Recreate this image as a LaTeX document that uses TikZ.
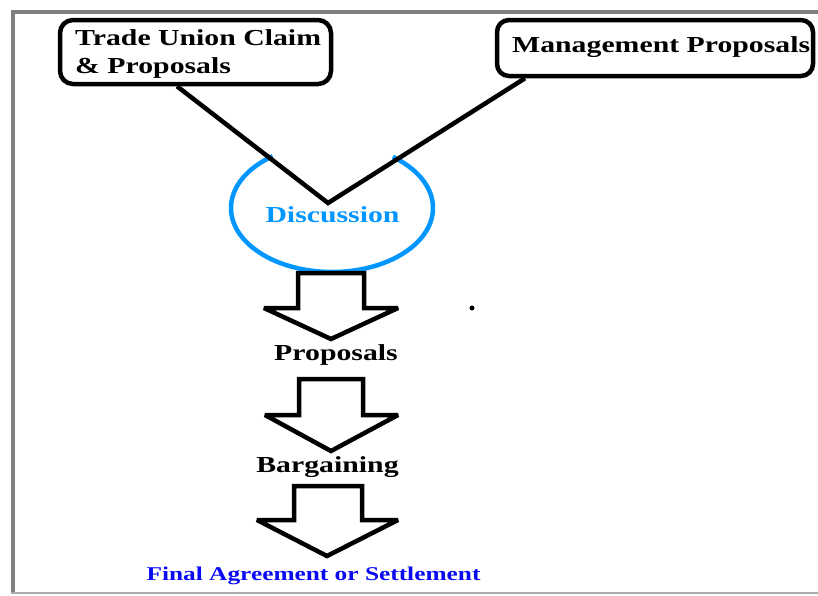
\documentclass[tikz,border=0pt]{standalone}
\usepackage{fontspec}
\newfontfamily\lblfont[FakeStretch=1.3]{Liberation Serif}
\usetikzlibrary{calc}
\definecolor{discblue}{RGB}{0,150,255}
\definecolor{finalblue}{RGB}{10,10,245}
\definecolor{framegray}{RGB}{128,128,128}
\definecolor{framelight}{RGB}{170,170,170}
\begin{document}
\begin{tikzpicture}[x=1pt,y=1pt,
  box/.style={draw=black,line width=4.5pt,rounded corners=13pt,inner sep=0pt},
  lbl/.style={inner sep=0pt,font=\lblfont\bfseries\fontsize{22.9}{28}\selectfont},
  link/.style={draw=black,line width=4.5pt},
  blockarrow/.style={draw=black,line width=4.5pt,line join=miter,miter limit=3},
  ring/.style={draw=discblue,line width=4.5pt}]
\useasboundingbox (0,0) rectangle (818,-595);
% page frame
\draw[framegray,line width=4pt] (12.5,-593) -- (12.5,-11.5) -- (818,-11.5);
\draw[framelight,line width=2pt] (11,-593) -- (818,-593);

% the two opening positions
\node[box,minimum width=271pt,minimum height=64pt] (tu) at (195.5,-52) {};
\node[lbl,anchor=base west] (tu1) at (75,-45) {Trade Union Claim};
\node[lbl,anchor=base west] (tu2) at (75,-73) {\& Proposals};
\node[box,rounded corners=12pt,minimum width=316pt,minimum height=56pt] (mp) at (655,-48) {};
\node[lbl,anchor=base west] (mpt) at (512,-52) {Management Proposals};

% both sides meet in discussion
\coordinate (dc) at (332,-208);
\coordinate (vpt) at (328,-203);
\draw[ring] ([shift={(126:101pt and 64pt)}]dc) arc[start angle=126,end angle=413,x radius=101pt,y radius=64pt];
\draw[link] ([xshift=-18.5pt]tu.south) -- (vpt) -- ([xshift=-130pt]mp.south);
\node[lbl,anchor=base,text=discblue] (disc) at (332.5,-222) {Discussion};

% block arrows down the stages
\draw[blockarrow] (298,-273) -- (364,-273) -- (364,-308) -- (398,-308) -- (331,-339) -- (264,-308) -- (298,-308) -- cycle;
\node[lbl,anchor=base] (prop) at (336,-360) {Proposals};
\draw[blockarrow] (299,-379) -- (363,-379) -- (363,-415) -- (398,-415) -- (331,-451) -- (265,-415) -- (299,-415) -- cycle;
\node[lbl,anchor=base] (barg) at (327.5,-472) {Bargaining};
\draw[blockarrow] (294,-486) -- (362,-486) -- (362,-520) -- (398,-520) -- (327,-556) -- (257,-520) -- (294,-520) -- cycle;
\node[lbl,anchor=base,text=finalblue,font=\lblfont\bfseries\fontsize{19.5}{22}\selectfont] (final) at (313.5,-580) {Final Agreement or Settlement};

% stray dot
\fill[black] (472,-308) circle[radius=2.5pt];
\end{tikzpicture}
\end{document}
